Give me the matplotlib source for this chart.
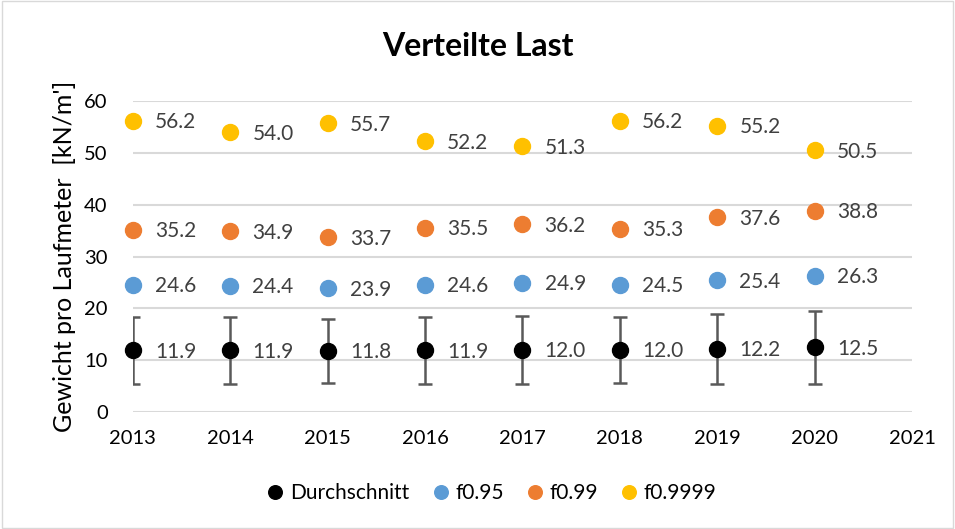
import matplotlib.pyplot as plt
from matplotlib.patches import Rectangle

years = [2013, 2014, 2015, 2016, 2017, 2018, 2019, 2020]
mean = [11.9, 11.9, 11.8, 11.9, 12.0, 12.0, 12.2, 12.5]
mean_err = [6.5, 6.4, 6.2, 6.5, 6.5, 6.3, 6.8, 7.0]
f095 = [24.6, 24.4, 23.9, 24.6, 24.9, 24.5, 25.4, 26.3]
f099 = [35.2, 34.9, 33.7, 35.5, 36.2, 35.3, 37.6, 38.8]
f09999 = [56.2, 54.0, 55.7, 52.2, 51.3, 56.2, 55.2, 50.5]

series = [
    ("Durchschnitt", mean, "#000000"),
    ("f0.95", f095, "#5B9BD5"),
    ("f0.99", f099, "#ED7D31"),
    ("f0.9999", f09999, "#FFC000"),
]

plt.rcParams['font.family'] = ['Lato', 'DejaVu Sans']

fig = plt.figure(figsize=(9.55, 5.29), dpi=100)
ax = fig.add_axes([0.139, 0.221, 0.816, 0.588])

# error bars for the mean (clipped at the left axis edge)
ax.errorbar(years, mean, yerr=mean_err, fmt='none', ecolor='#595959',
            elinewidth=1.8, capsize=5, capthick=1.8, zorder=2)

for name, vals, col in series:
    ax.plot(years, vals, 'o', color=col, markersize=11.5, label=name,
            clip_on=False, zorder=3)
    for x, v in zip(years, vals):
        ax.annotate(f"{v:.1f}", (x, v), xytext=(16, -1), textcoords='offset points',
                    va='center', ha='left', fontsize=15, color='#404040')

ax.set_xlim(2013, 2021)
ax.set_ylim(0, 60)
ax.set_xticks(range(2013, 2022))
ax.set_yticks(range(0, 61, 10))
ax.yaxis.grid(True, color='#D9D9D9', linewidth=1.5)
ax.set_axisbelow(True)
for s in ax.spines.values():
    s.set_visible(False)
ax.tick_params(length=0, labelsize=14.5, colors='#000000', pad=13)
ax.tick_params(axis='y', pad=18)
ax.set_ylabel("Gewicht pro Laufmeter  [kN/m']", fontsize=18, labelpad=6)

fig.suptitle("Verteilte Last", fontsize=23, fontweight='bold', y=0.94)

fig.legend(loc='center', bbox_to_anchor=(0.515, 0.068), ncol=4, frameon=False,
           fontsize=15, handlelength=0.8, handletextpad=0.3, columnspacing=1.1,
           markerscale=0.85)

fig.patches.append(Rectangle((0.002, 0.002), 0.996, 0.996, transform=fig.transFigure,
                             fill=False, edgecolor='#D9D9D9', linewidth=1))

fig.savefig("out.png", dpi=100)
